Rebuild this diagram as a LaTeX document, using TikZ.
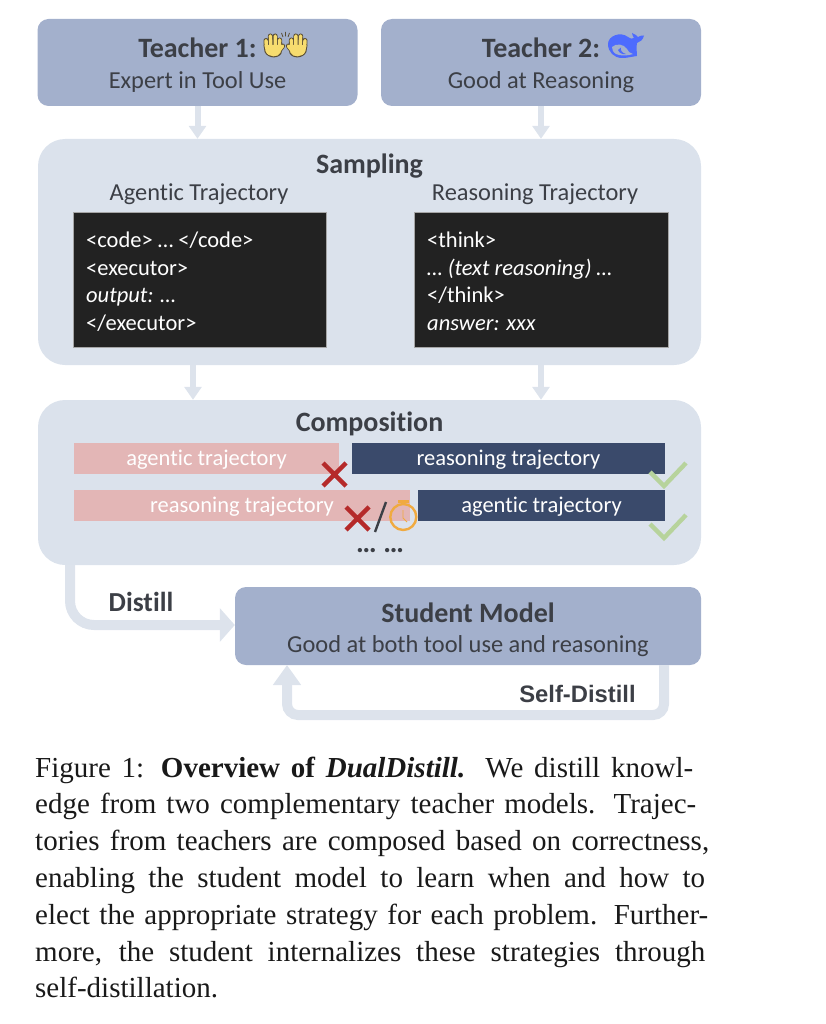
\documentclass[tikz,border=0pt]{standalone}
\usepackage{fontspec}
\setmainfont{Liberation Serif}
\newfontfamily\dfont[Ligatures={NoCommon}]{Carlito}
\newfontfamily\afont{Liberation Sans}
\usetikzlibrary{arrows.meta}
\definecolor{boxblue}{HTML}{A3B0CC}
\definecolor{panel}{HTML}{DBE2EC}
\definecolor{arrowc}{HTML}{DDE3EC}
\definecolor{navy}{HTML}{3A4A6B}
\definecolor{pinkbar}{HTML}{E3B6B6}
\definecolor{redx}{HTML}{B52A2A}
\definecolor{greenc}{HTML}{B7D39C}
\definecolor{orangec}{HTML}{F0AA40}
\definecolor{ink}{HTML}{3C3F46}
\definecolor{codebg}{HTML}{222222}
\definecolor{handy}{HTML}{F7DC6F}
\definecolor{handline}{HTML}{5A4E35}
\definecolor{whale}{HTML}{4D6BFE}
\tikzset{
 x=1pt,y=-1pt,
 dtext/.style={font=\dfont\fontsize{24.4}{28}\selectfont,text=ink,inner sep=0pt},
 dbold/.style={font=\dfont\bfseries\fontsize{28}{30}\selectfont,text=ink,inner sep=0pt},
 roundbox/.style={fill=boxblue,rounded corners=11pt,inner sep=0pt},
 panelbox/.style={fill=panel,rounded corners=27pt,inner sep=0pt},
 codebox/.style={fill=codebg,draw=gray!70,line width=0.8pt,inner sep=0pt},
 codetext/.style={font=\dfont\fontsize{22.5}{27.4}\selectfont,text=white,inner sep=0pt,align=left,anchor=north west},
 pinkb/.style={fill=pinkbar,inner sep=0pt,text=white,font=\dfont\fontsize{22.5}{26}\selectfont},
 navyb/.style={fill=navy,inner sep=0pt,text=white,font=\dfont\fontsize{22.5}{26}\selectfont},
 blockarrow/.style={draw=arrowc,line width=6pt,-{Triangle[width=17pt,length=13pt]}},
 widearrow/.style={draw=arrowc,line width=10pt,-{Triangle[width=33pt,length=15pt]}},
 crossm/.style={draw=redx,line width=4.4pt},
 checkm/.style={draw=greenc,line width=4.4pt},
 captionl/.style={font=\fontsize{29}{36.8}\selectfont,inner sep=0pt,align=left,anchor=north west,text=black!90},
}
\newcommand{\capl}[2]{\makebox[#1pt][s]{#2}}
\newcommand{\handfig}[2]{%
 \begin{scope}[shift={(#1,0)},xscale=#2,line cap=round]
  \draw[handline,line width=5pt] (-7.6,47) -- (-8,40.5) (-3.2,46) -- (-3.6,36) (1.2,46) -- (1.2,36) (5.4,47) -- (5.6,40) (4,52) -- (8.6,46);
  \fill[handline] (-10.4,45) -- (8,45) -- (7.6,53) .. controls (5,59) and (-6,59) .. (-9.4,52) -- cycle;
  \draw[handy,line width=3.4pt] (-7.6,47) -- (-8,40.5) (-3.2,46) -- (-3.6,36) (1.2,46) -- (1.2,36) (5.4,47) -- (5.6,40) (4,52) -- (8.6,46);
  \fill[handy] (-9.4,45) -- (7,45) -- (6.6,52.5) .. controls (4.5,57.8) and (-5.5,57.8) .. (-8.4,51.5) -- cycle;
 \end{scope}}
\begin{document}
\begin{tikzpicture}
\useasboundingbox (0,0) rectangle (826,1024);
% boxes
\node[roundbox,minimum width=320pt,minimum height=87pt] (t1) at (197.5,62.5) {};
\node[roundbox,minimum width=320pt,minimum height=87pt] (t2) at (541,62.5) {};
\node[panelbox,minimum width=663pt,minimum height=226pt] (samp) at (369.5,252) {};
\node[panelbox,minimum width=663pt,minimum height=165pt] (comp) at (369.5,482.5) {};
\node[roundbox,minimum width=466pt,minimum height=78pt] (stud) at (468,626) {};
% teacher text
\node[dbold,anchor=base] (t1a) at (197.5,58) {Teacher 1:};
\handfig{274}{1}
\handfig{297}{-1}
\draw[handline,line width=0.8pt] (285.5,32) -- (285.5,36.5) (281.5,33) -- (283,37) (289.5,33) -- (288,37);
\node[dtext,anchor=base] (t1b) at (197.5,89) {Expert in Tool Use};
\node[dbold,anchor=base] (t2a) at (541,58) {Teacher 2:};
\fill[whale] (608,44) .. controls (608,36) and (620,31) .. (628,37) .. controls (630,39) and (632,39) .. (634,38) .. controls (633,36) and (632,35) .. (632,33) .. controls (635,34) and (637,36) .. (638,37) .. controls (640,36) and (642,35) .. (644,35.5) .. controls (643,40) and (640,42) .. (637,43) .. controls (636,48) and (637,52) .. (637,56) .. controls (630,57) and (627,58) .. (622,58) .. controls (614,58) and (608,52) .. (608,44) -- cycle;
\fill[boxblue] (612,47) .. controls (616,43) and (624,44) .. (627,49) .. controls (628,52) and (630,53) .. (633,54) .. controls (628,56) and (620,56) .. (616,54) .. controls (613,52) and (612,50) .. (612,47) -- cycle;
\fill[whale] (621,47.5) .. controls (620,50) and (622,53) .. (626,54) .. controls (623,55) and (619,53) .. (618,50) -- cycle;
\node[dtext,anchor=base] (t2b) at (541,89) {Good at Reasoning};
% sampling
\node[dbold,anchor=base] (sl) at (369.5,174) {Sampling};
\node[dtext,anchor=base] (al) at (199,201) {Agentic Trajectory};
\node[dtext,anchor=base] (rl) at (535,201) {Reasoning Trajectory};
\node[codebox,minimum width=253pt,minimum height=135pt] (c1) at (199.5,279.5) {};
\node[codebox,minimum width=254pt,minimum height=135pt] (c2) at (541,279.5) {};
\node[codetext] (c1t) at (86,232) {<code> … </code>\\<executor>\\\textit{output: …}\\</executor>};
\node[codetext] (c2t) at (427,232) {<think>\\\textit{… (text reasoning) …}\\</think>\\\textit{answer: xxx}};
% composition
\node[dbold,anchor=base] (cl) at (369.5,431) {Composition};
\node[pinkb,minimum width=265pt,minimum height=31pt] (b1) at (206.5,458.5) {};
\node[navyb,minimum width=313pt,minimum height=31pt] (b2) at (508.5,458.5) {};
\node[pinkb,minimum width=336pt,minimum height=31pt] (b3) at (242,505.5) {};
\node[navyb,minimum width=247pt,minimum height=31pt] (b4) at (541.5,505.5) {};
\node[pinkb,fill=none] (b1t) at (206.5,460) {agentic trajectory};
\node[pinkb,fill=none] (b2t) at (508.5,460) {reasoning trajectory};
\node[pinkb,fill=none] (b3t) at (242,507) {reasoning trajectory};
\node[pinkb,fill=none] (b4t) at (541.5,507) {agentic trajectory};
\draw[crossm] (323,463) -- (346,486) (346,463) -- (323,486);
\draw[crossm] (346,507) -- (369,530) (369,507) -- (346,530);
\draw[ink,line width=2.4pt] (386,502) -- (375,532);
\draw[orangec,line width=2.4pt] (403.3,517) circle (13pt);
\draw[orangec,line width=2.4pt] (398,501.5) -- (409,501.5) (403.5,501.5) -- (403.5,504);
\draw[orangec,line width=0.9pt] (403,510) -- (403,518) -- (407,522);
\draw[checkm] (650,472) -- (664,486) -- (686,463);
\draw[checkm] (650,524) -- (664,538) -- (686,515);
\node[font=\dfont\bfseries\fontsize{29}{30}\selectfont,text=ink,inner sep=0pt,anchor=base] (dots) at (380,552) {… …};
% student
\node[dbold,anchor=base] (sa) at (468,622) {Student Model};
\node[dtext,anchor=base] (sb) at (468,652) {Good at both tool use and reasoning};
\node[font=\dfont\bfseries\fontsize{27.5}{30}\selectfont,text=ink,inner sep=0pt,anchor=base] (dl) at (141,611) {Distill};
\node[font=\afont\bfseries\fontsize{23.8}{26}\selectfont,text=ink,inner sep=0pt,anchor=base] (sdl) at (577.5,702) {Self-Distill};
% connectors
\draw[blockarrow] (t1.south) -- (t1.south |- samp.north);
\draw[blockarrow] (t2.south) -- (t2.south |- samp.north);
\coordinate (s1) at (193,365);
\coordinate (s2) at (541,365);
\draw[blockarrow] (s1) -- (s1 |- comp.north);
\draw[blockarrow] (s2) -- (s2 |- comp.north);
\coordinate (d0) at (70,565);
\coordinate (d1) at (70,625);
\draw[widearrow,rounded corners=24pt] (d0) -- (d1) -- (d1 -| stud.west);
\coordinate (f0) at (664,665);
\coordinate (f1) at (664,715);
\coordinate (f2) at (287,715);
\coordinate (f3) at (287,665);
\draw[draw=arrowc,line width=10pt,-{Triangle[width=27pt,length=20pt]},rounded corners=11pt] (f0) -- (f1) -- (f2) -- (f3);
% caption
\node[captionl] (cap) at (35,756.5) {%
\capl{658}{Figure 1: \textbf{Overview of \textit{DualDistill.}} We distill knowl-}\\
\capl{661}{edge from two complementary teacher models. Trajec-}\\
\capl{674}{tories from teachers are composed based on correctness,}\\
\capl{670}{enabling the student model to learn when and how to}\\
\capl{673}{elect the appropriate strategy for each problem. Further-}\\
\capl{670}{more, the student internalizes these strategies through}\\
self-distillation.};
\end{tikzpicture}
\end{document}
